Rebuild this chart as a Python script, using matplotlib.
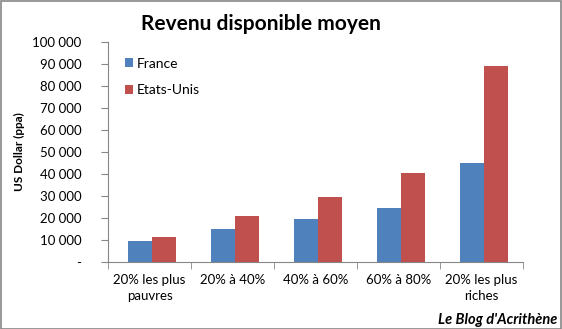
import matplotlib.pyplot as plt
import numpy as np
from matplotlib.patches import Rectangle

categories = ["20% les plus\npauvres", "20% à 40%", "40% à 60%", "60% à 80%", "20% les plus\nriches"]
france = [9600, 15100, 19600, 24600, 44800]
etats_unis = [11500, 21000, 29600, 40600, 89300]
y_ticks = [0, 10000, 20000, 30000, 40000, 50000, 60000, 70000, 80000, 90000, 100000]

plt.rcParams['font.family'] = ['Lato', 'DejaVu Sans']

W, H = 562, 329
fig = plt.figure(figsize=(W / 100, H / 100), dpi=100)
ax = fig.add_axes([108 / W, 1 - 262 / H, (523 - 108) / W, (262 - 42) / H])

x = np.arange(len(categories))
bw = 0.285
ax.bar(x - bw / 2 + 0.03, france, bw, color='#4F81BD', label='France')
ax.bar(x + bw / 2 + 0.03, etats_unis, bw, color='#C0504D', label='Etats-Unis')

ax.set_xlim(-0.5, len(categories) - 0.5)
ax.set_ylim(0, 100000)
ax.set_yticks(y_ticks)
ax.set_yticklabels(['-' if v == 0 else f"{v:,}".replace(',', ' ') for v in y_ticks], fontsize=9.5)
ax.set_xticks(x)
ax.set_xticklabels(categories, fontsize=9.5, linespacing=1.3)
ax.set_xticks(np.arange(len(categories) + 1) - 0.5, minor=True)
ax.tick_params(axis='x', which='major', length=0, pad=9)
ax.tick_params(axis='x', which='minor', length=5, color='#868686', direction='out')
ax.tick_params(axis='y', length=5, color='#868686', direction='out', pad=14)

for s in ['top', 'right']:
    ax.spines[s].set_visible(False)
for s in ['left', 'bottom']:
    ax.spines[s].set_color('#868686')

ax.set_ylabel('US Dollar (ppa)', fontsize=8.5, fontweight='bold')
ax.yaxis.set_label_coords(-83 / 415, 0.5)

leg = ax.legend(loc='upper left', bbox_to_anchor=(0.01, 0.985), frameon=False, fontsize=10,
                handlelength=0.6, handleheight=0.6, handletextpad=0.3, labelspacing=1.05)

fig.text(261 / W, 1 - 24 / H, 'Revenu disponible moyen', ha='center', va='center',
         fontsize=15, fontweight='bold')
fig.text(557 / W, 1 - 320 / H, "Le Blog d'Acrithène", ha='right', va='center',
         fontsize=10.5, fontweight='bold', style='italic')

fig.patches.append(Rectangle((0.5 / W, 0.5 / H), 1 - 1.5 / W, 1 - 1.5 / H, transform=fig.transFigure,
                             fill=False, edgecolor='#868686', linewidth=1.2))

fig.savefig('out.png', dpi=100)
